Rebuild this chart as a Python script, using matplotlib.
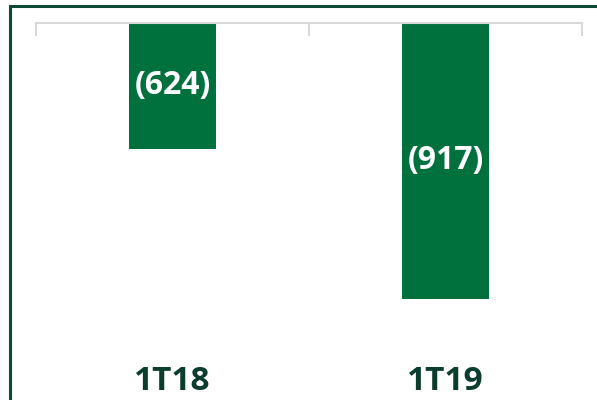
import matplotlib.pyplot as plt
import matplotlib.transforms as mtransforms
from matplotlib.patches import Rectangle

categories = ['1T18', '1T19']
values = [-624, -917]
labels = ['(624)', '(917)']

axis_top = -378
axis_bottom = -1000

bar_color = '#00703c'
dark_green = '#0b3d2e'
grid_gray = '#d9d9d9'

plt.rcParams['font.family'] = ['Open Sans', 'DejaVu Sans']

fig = plt.figure(figsize=(5.97, 4.0), dpi=100)
ax = fig.add_axes([36 / 597, 58.5 / 400, 546 / 597, 318.5 / 400])

x = list(range(len(categories)))
ax.bar(x, values, width=0.32, color=bar_color, zorder=2)
ax.set_xlim(-0.5, len(categories) - 0.5)
ax.set_ylim(axis_bottom, axis_top)

# value labels centred in the visible part of each bar
for xi, v, lab in zip(x, values, labels):
    ax.text(xi, (v + axis_top) / 2, lab, ha='center', va='center',
            color='white', fontsize=23, fontweight='bold', zorder=3)

# category labels under the plot
trans = mtransforms.blended_transform_factory(ax.transData, ax.transAxes)
for xi, cat in zip(x, categories):
    ax.text(xi, -0.125, cat, ha='center', va='center', transform=trans,
            color=dark_green, fontsize=24, fontweight='bold')

for side in ['left', 'right', 'bottom']:
    ax.spines[side].set_visible(False)
ax.spines['top'].set_color(grid_gray)
ax.spines['top'].set_linewidth(1.5)
ax.set_yticks([])
ax.xaxis.tick_top()
ax.set_xticks([-0.5, 0.5, 1.5])
ax.set_xticklabels([])
ax.tick_params(axis='x', direction='in', length=9, width=1.5, color=grid_gray)

# outer frame
fig.patches.append(Rectangle((10 / 597, -0.1), 1.2, 1.0 - 6 / 400 + 0.1,
                             transform=fig.transFigure, fill=False,
                             edgecolor='#0d4a33', linewidth=2.2))

fig.savefig('out.png', dpi=100)
